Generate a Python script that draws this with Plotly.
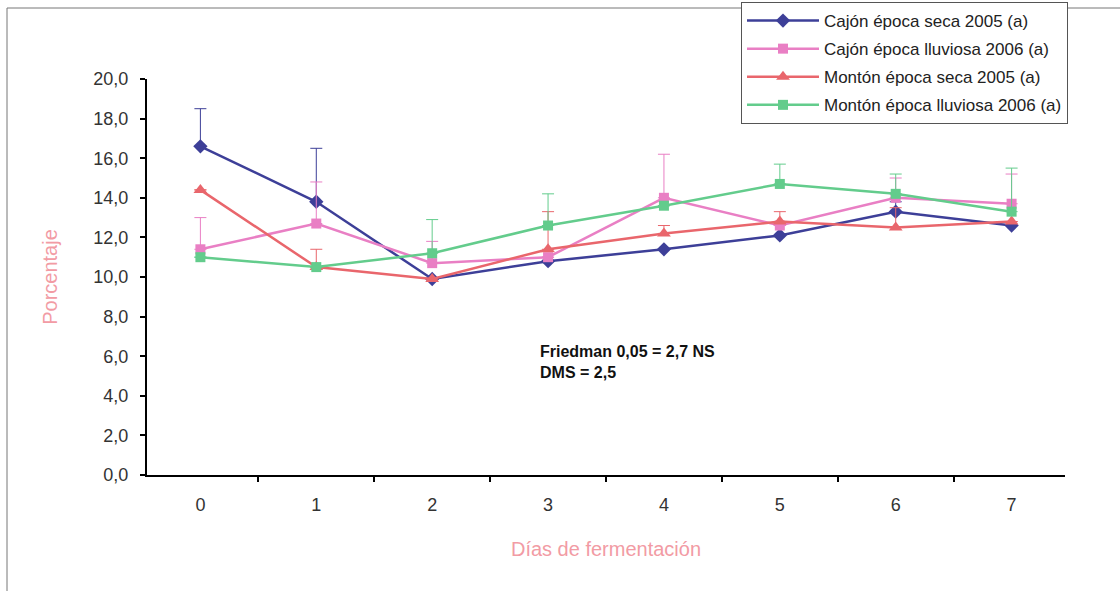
import plotly.graph_objects as go

# Días de fermentación (categorías del eje X)
dias = ["0", "1", "2", "3", "4", "5", "6", "7"]

# Porcentaje medio por día
cajon_seca = [16.6, 13.8, 9.9, 10.8, 11.4, 12.1, 13.3, 12.6]
cajon_lluviosa = [11.4, 12.7, 10.7, 11.0, 14.0, 12.6, 14.0, 13.7]
monton_seca = [14.4, 10.5, 9.9, 11.4, 12.2, 12.8, 12.5, 12.8]
monton_lluviosa = [11.0, 10.5, 11.2, 12.6, 13.6, 14.7, 14.2, 13.3]

# Barras de error (sólo hacia arriba)
cajon_seca_err = [1.9, 2.7, 0, 0, 0, 0, 0.5, 0]
cajon_lluviosa_err = [1.6, 2.1, 1.1, 0, 2.2, 0, 1.0, 1.5]
monton_seca_err = [0, 0.9, 0, 1.9, 0.4, 0.5, 1.0, 0]
monton_lluviosa_err = [0, 0, 1.7, 1.6, 0, 1.0, 1.0, 2.2]

series = [
    ("Cajón época seca 2005 (a)", cajon_seca, cajon_seca_err, "#3d3f98", "diamond", 11),
    ("Cajón época lluviosa 2006 (a)", cajon_lluviosa, cajon_lluviosa_err, "#e97fc4", "square", 10),
    ("Montón época seca 2005 (a)", monton_seca, monton_seca_err, "#e9666c", "triangle-up", 12),
    ("Montón época lluviosa 2006 (a)", monton_lluviosa, monton_lluviosa_err, "#63cc8c", "square", 10),
]

fig = go.Figure()
for i, (name, vals, err, color, symbol, size) in enumerate(series):
    fig.add_trace(go.Scatter(
        x=dias, y=vals, name=name, mode="lines+markers",
        legendgroup=f"g{i}",
        line=dict(color=color, width=2.5),
        marker=dict(symbol=symbol, size=size, color=color),
        error_y=dict(type="data", array=err, symmetric=False,
                     arrayminus=[0] * len(err), color=color,
                     thickness=1, width=6),
    ))

font_family = "Liberation Sans, Arial, sans-serif"

fig.update_layout(
    width=1120, height=591,
    margin=dict(l=147, r=55, t=79, b=116, autoexpand=False),
    paper_bgcolor="white", plot_bgcolor="white",
    separators=",.",
    font=dict(family=font_family, color="#333333", size=18),
    showlegend=True,
    legend=dict(
        x=(741 - 147) / 918, y=1 + (79 - 2) / 396,
        xanchor="left", yanchor="top",
        bgcolor="white", bordercolor="#555555", borderwidth=1,
        font=dict(family=font_family, size=17, color="#222222"),
        itemwidth=72, tracegroupgap=3, traceorder="grouped",
    ),
    xaxis=dict(
        type="category", tickson="boundaries",
        showline=True, linecolor="black", linewidth=2,
        ticks="outside", ticklen=5, tickwidth=2, tickcolor="black",
        showgrid=False, zeroline=False,
        ticklabelstandoff=12,
        tickfont=dict(size=18, color="#333333"),
        title=dict(text="Días de fermentación", standoff=28,
                   font=dict(size=20, color="#f29ba4")),
    ),
    yaxis=dict(
        range=[0, 20], dtick=2, tickformat=".1f",
        showline=True, linecolor="black", linewidth=2,
        ticks="outside", ticklen=5, tickwidth=2, tickcolor="black",
        showgrid=False, zeroline=False,
        ticklabelstandoff=8,
        tickfont=dict(size=18, color="#333333"),
        title=dict(text="Porcentaje", standoff=30,
                   font=dict(size=20, color="#f29ba4")),
    ),
    shapes=[dict(
        type="rect", xref="paper", yref="paper",
        x0=(7 - 147) / 918, x1=(1130 - 147) / 918,
        y0=-(600 - 475) / 396, y1=1 + (79 - 8) / 396,
        line=dict(color="#777777", width=1), layer="below",
    )],
    annotations=[dict(
        text="<b>Friedman 0,05 = 2,7 NS<br>DMS = 2,5</b>",
        xref="paper", yref="paper",
        x=(538 - 147) / 918, y=1 - (341 - 79) / 396,
        xanchor="left", yanchor="top", align="left", showarrow=False,
        font=dict(family=font_family, size=16, color="#111111"),
    )],
)

fig.write_html("out.html")
